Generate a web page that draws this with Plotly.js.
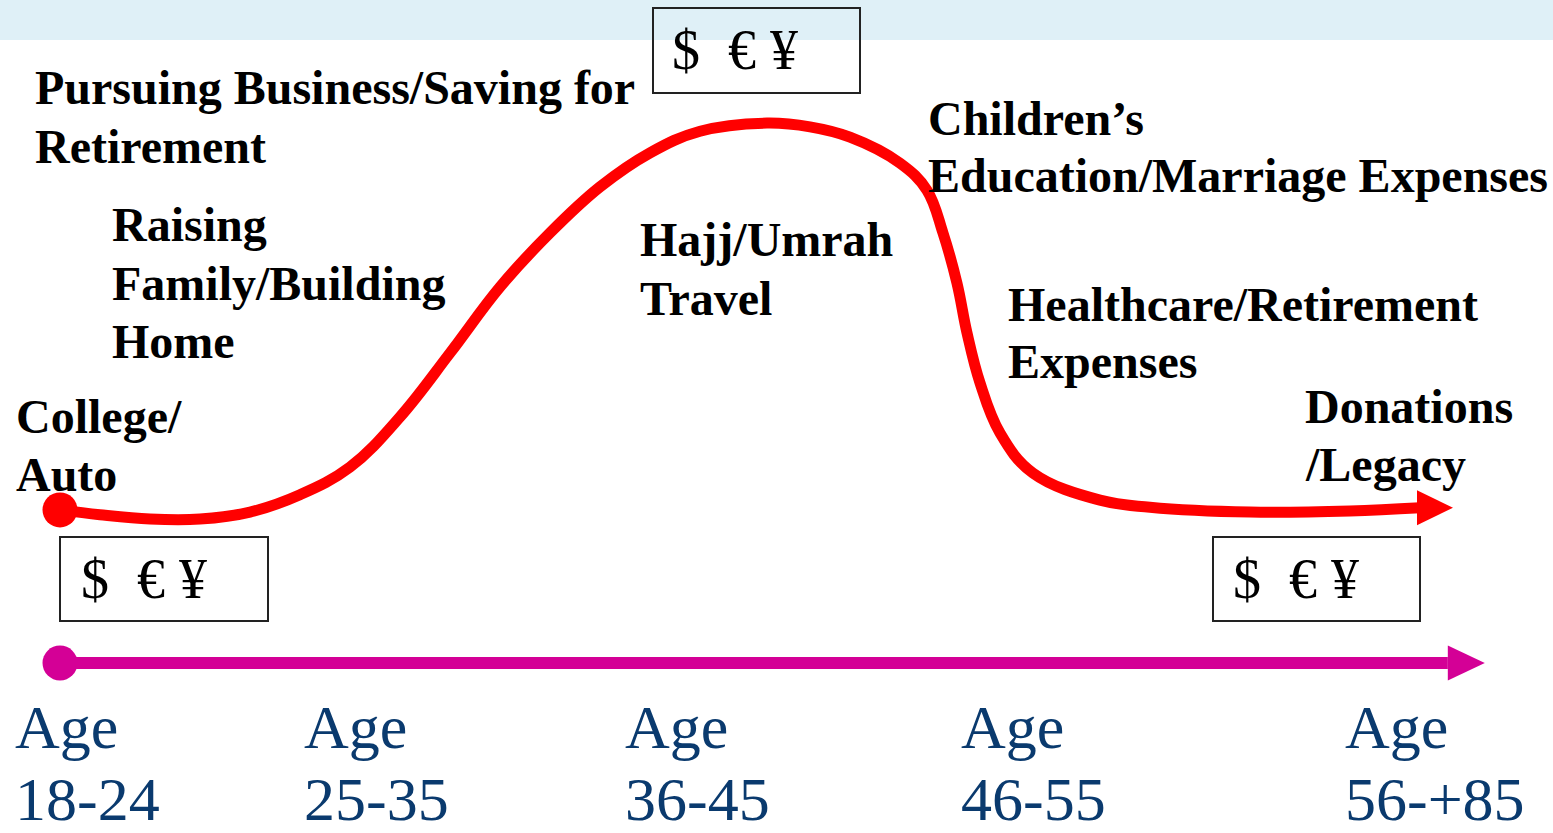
<!DOCTYPE html>
<html>
<head>
<meta charset="utf-8">
<script src="https://cdn.plot.ly/plotly-3.0.1.min.js"></script>
<style>
html,body{margin:0;padding:0;background:#fff;overflow:hidden}
#chart{width:1553px;height:833px}
</style>
</head>
<body>
<div id="chart"></div>
<script>
// ---------------- DATA ----------------
// life-stage progress along the timeline (0 = start, 100 = end)
const lifeProgress = [0, 2.87, 6.47, 10.06, 13.65, 17.24, 20.83, 24.43, 28.02, 31.61, 35.20, 38.79, 42.39, 45.98, 50.79, 53.88, 56.75, 60.34, 62.28, 63.43, 64.44, 65.16, 66.09, 67.53, 69.90, 74.71, 78.30, 85.49, 92.67, 97.70];
// relative spending / saving need level
const spendingLevel = [28.3, 27.4, 26.6, 26.6, 27.9, 31.1, 36.2, 45.5, 57.3, 69.5, 79.5, 88.0, 94.3, 98.3, 99.8, 99.1, 97.2, 92.4, 87.4, 79.5, 70.2, 61.0, 51.8, 42.5, 35.1, 30.1, 28.8, 27.9, 28.1, 28.7];
// timeline axis
const timelineX = [0, 99.7];
const timelineY = [0, 0];
// age stage tick labels
const ageTop = ["Age", "Age", "Age", "Age", "Age"];
const ageBottom = ["18-24", "25-35", "36-45", "46-55", "56-+85"];
// life-stage captions (one list of lines per caption)
const stageCaptions = [
  ["Pursuing Business/Saving for", "Retirement"],
  ["Raising", "Family/Building", "Home"],
  ["College/", "Auto"],
  ["Hajj/Umrah", "Travel"],
  ["Children\u2019s", "Education/Marriage Expenses"],
  ["Healthcare/Retirement", "Expenses"],
  ["Donations", "/Legacy"]
];
const currencyText = "$\u00a0\u00a0\u20ac\u00a0\u00a5";

// ---------------- LAYOUT HELPERS ----------------
const W = 1553, H = 833;
const X0PX = 60, XPX = 13.92;   // pixels per progress unit
const Y0PX = 663, YPX = 5.41;   // pixels per level unit
const xRange = [(0 - X0PX) / XPX, (W - X0PX) / XPX];
const yRange = [(Y0PX - H) / YPX, Y0PX / YPX];
const px = v => v / W;
const py = v => 1 - v / H;

// caption placement: left edge and first-line centre, line step
const captionPos = [
  {x: 34, y: 88}, {x: 111, y: 225}, {x: 15, y: 416}, {x: 639, y: 240},
  {x: 927, y: 118}, {x: 1007, y: 304}, {x: 1304, y: 406}
];
const LINE_STEP = 58;
const agePosX = [14, 303, 624, 960, 1344];
const boxes = [
  {x0: 60, y0: 537, x1: 268, y1: 621, tx: 80},
  {x0: 653, y0: 8, x1: 860, y1: 93, tx: 671},
  {x0: 1213, y0: 537, x1: 1420, y1: 621, tx: 1232}
];

const RED = "#ff0000", MAGENTA = "#d40096", NAVY = "#0a3a6e";
const SERIF = "Liberation Serif, Times New Roman, serif";
const BOLD = {family: SERIF, size: 48, color: "#000", weight: 700};

const annotations = [];
stageCaptions.forEach((lines, i) => {
  lines.forEach((t, j) => {
    annotations.push({
      xref: "paper", yref: "paper", x: px(captionPos[i].x), y: py(captionPos[i].y + j * LINE_STEP),
      xanchor: "left", yanchor: "middle", align: "left", showarrow: false,
      text: t, font: BOLD, borderpad: 0
    });
  });
});
agePosX.forEach((x, i) => {
  [ageTop[i], ageBottom[i]].forEach((t, j) => {
    annotations.push({
      xref: "paper", yref: "paper", x: px(x), y: py(727 + j * 72),
      xanchor: "left", yanchor: "middle", align: "left", valign: "middle", showarrow: false, borderpad: 0,
      text: t, font: {family: SERIF, size: 62, color: NAVY}
    });
  });
});
boxes.forEach(b => {
  annotations.push({
    xref: "paper", yref: "paper", x: px(b.tx), y: py((b.y0 + b.y1) / 2),
    xanchor: "left", yanchor: "middle", showarrow: false, borderpad: 0,
    text: currencyText, font: {family: SERIF, size: 56, color: "#000"}
  });
});

const shapes = [
  {type: "rect", xref: "paper", yref: "paper", x0: 0, x1: 1, y0: py(40), y1: 1,
   fillcolor: "#dff0f7", line: {width: 0}, layer: "below"}
];
boxes.forEach(b => shapes.push({
  type: "rect", xref: "paper", yref: "paper", x0: px(b.x0), x1: px(b.x1), y0: py(b.y1), y1: py(b.y0),
  fillcolor: "rgba(0,0,0,0)", line: {color: "#222", width: 2}
}));
// arrow heads anchored at the end of each series
const nLast = lifeProgress.length - 1;
shapes.push({type: "path", xref: "x", yref: "y", xsizemode: "pixel", ysizemode: "pixel",
  xanchor: lifeProgress[nLast], yanchor: spendingLevel[nLast],
  path: "M-3,-17.5 L33,0 L-3,17.5 Z", fillcolor: RED, line: {width: 0}});
shapes.push({type: "path", xref: "x", yref: "y", xsizemode: "pixel", ysizemode: "pixel",
  xanchor: timelineX[1], yanchor: timelineY[1],
  path: "M0,-17.5 L37,0 L0,17.5 Z", fillcolor: MAGENTA, line: {width: 0}});

const traces = [
  {x: timelineX, y: timelineY, mode: "lines", line: {color: MAGENTA, width: 12}, hoverinfo: "skip"},
  {x: [timelineX[0]], y: [timelineY[0]], mode: "markers", marker: {color: MAGENTA, size: 35}, hoverinfo: "skip"},
  {x: lifeProgress, y: spendingLevel, mode: "lines", line: {color: RED, width: 11, shape: "spline", smoothing: 1.1}, hoverinfo: "skip"},
  {x: [lifeProgress[0]], y: [spendingLevel[0]], mode: "markers", marker: {color: RED, size: 35}, hoverinfo: "skip"}
];

const layout = {
  width: W, height: H, margin: {l: 0, r: 0, t: 0, b: 0},
  paper_bgcolor: "#fff", plot_bgcolor: "#fff", showlegend: false,
  xaxis: {range: xRange, visible: false, fixedrange: true},
  yaxis: {range: yRange, visible: false, fixedrange: true},
  annotations: annotations, shapes: shapes
};
Plotly.newPlot("chart", traces, layout, {displayModeBar: false, staticPlot: true});
</script>
</body>
</html>
